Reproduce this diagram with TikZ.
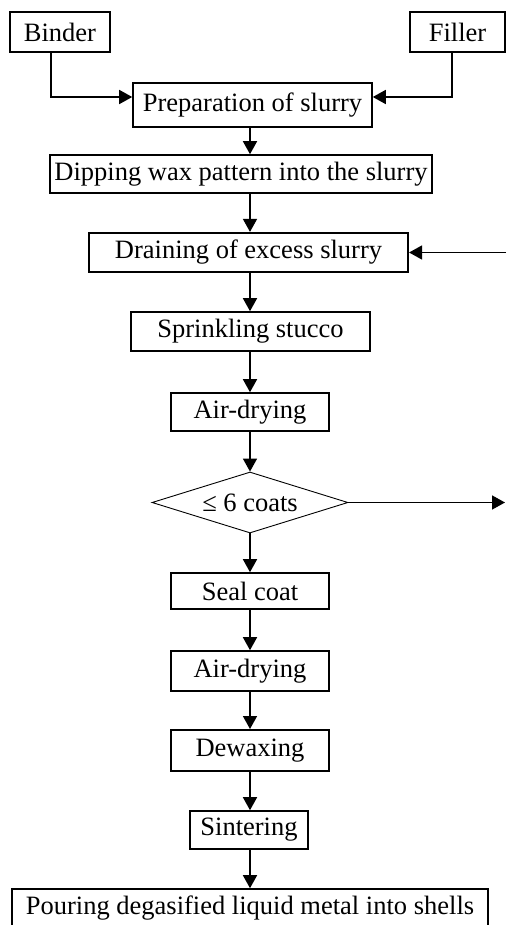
\documentclass[tikz,border=0pt]{standalone}
\usepackage{fontspec}
\setmainfont{Liberation Serif}
\usetikzlibrary{arrows.meta,shapes.geometric}
\begin{document}
\begin{tikzpicture}[x=1pt,y=-1pt,
  box/.style={draw,line width=1.6pt,rectangle,inner sep=0pt,font=\fontsize{26.5}{28}\selectfont},
  dec/.style={draw,line width=0.9pt,diamond,aspect=3.2,inner sep=0pt,font=\fontsize{26.5}{28}\selectfont},
  arr/.style={line width=1.6pt,-{Triangle[length=13pt,width=14pt]}}]
\useasboundingbox[fill=white] (0,0) rectangle (506,925);
\node[box,minimum width=100pt,minimum height=40pt] (binder) at (60,32) {Binder};
\node[box,minimum width=95pt,minimum height=40pt] (filler) at (457.5,32) {Filler};
\node[box,minimum width=239pt,minimum height=44pt] (prep) at (252.5,105) {Preparation of slurry};
\node[box,minimum width=382pt,minimum height=38pt] (dip) at (241,174) {Dipping wax pattern into the slurry};
\node[box,minimum width=319pt,minimum height=39pt,line width=2.2pt] (drain) at (248.5,252.5) {Draining of excess slurry};
\node[box,minimum width=239pt,minimum height=39pt] (sprink) at (250.5,331.5) {Sprinkling stucco};
\node[box,minimum width=158pt,minimum height=38pt] (air1) at (250,412) {Air-drying};
\node[dec,minimum width=196pt,minimum height=61pt] (coats) at (250,502.5) {≤ 6 coats};
\node[box,minimum width=158pt,minimum height=36pt] (seal) at (250,591) {Seal coat};
\node[box,minimum width=158pt,minimum height=40pt] (air2) at (250,671) {Air-drying};
\node[box,minimum width=158pt,minimum height=41pt,line width=2pt] (dewax) at (250,750.5) {Dewaxing};
\node[box,minimum width=118pt,minimum height=38pt] (sinter) at (249,830) {Sintering};
\node[box,minimum width=476pt,minimum height=38pt] (pour) at (250,908) {Pouring degasified liquid metal into shells};
\coordinate (ax) at (250,0);
\coordinate (bx) at (51,97);
\coordinate (fx) at (452,97);
\coordinate (fbin) at (506,252.5);
\coordinate (fbout) at (505,502.5);
\draw[arr] (binder.south -| bx) |- (prep.west |- bx);
\draw[arr] (filler.south -| fx) |- (prep.east |- fx);
\draw[arr] (prep.south -| ax) -- (dip.north -| ax);
\draw[arr] (dip.south -| ax) -- (drain.north -| ax);
\draw[arr] (fbin) -- (drain.east);
\draw[arr] (drain.south -| ax) -- (sprink.north -| ax);
\draw[arr] (sprink.south -| ax) -- (air1.north -| ax);
\draw[arr] (air1.south -| ax) -- (coats.north);
\draw[arr] (coats.east) -- (fbout);
\draw[arr] (coats.south) -- (seal.north -| ax);
\draw[arr] (seal.south -| ax) -- (air2.north -| ax);
\draw[arr] (air2.south -| ax) -- (dewax.north -| ax);
\draw[arr] (dewax.south -| ax) -- (sinter.north -| ax);
\draw[arr] (sinter.south -| ax) -- (pour.north -| ax);
\end{tikzpicture}
\end{document}
